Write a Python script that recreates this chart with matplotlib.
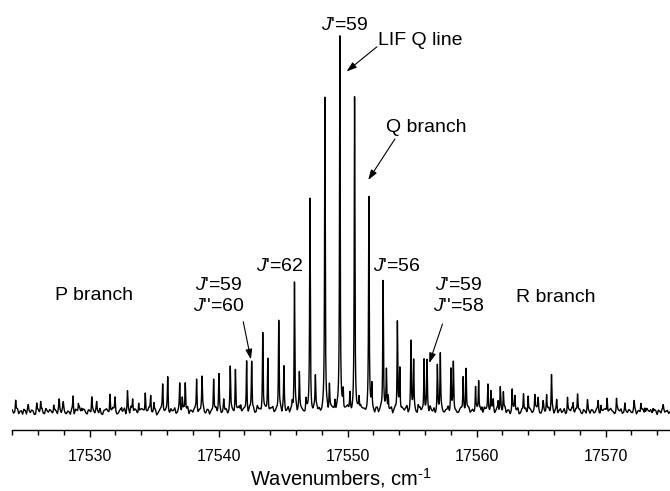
import numpy as np
import matplotlib
matplotlib.use("Agg")
import matplotlib.pyplot as plt

plt.rcParams['font.family'] = ['Liberation Sans', 'DejaVu Sans']
plt.rcParams['mathtext.fontset'] = 'custom'
plt.rcParams['mathtext.it'] = 'Liberation Sans:italic'
plt.rcParams['mathtext.rm'] = 'Liberation Sans'

# Line positions (cm^-1) and relative intensities (tallest = 100)
line_pos = [
    17524.26, 17525.24, 17525.89, 17526.20, 17527.21, 17527.64, 17527.95, 17528.71,
    17529.12, 17529.38, 17530.16, 17530.54, 17531.57, 17531.96, 17532.48, 17532.93,
    17533.33, 17533.80, 17534.31, 17534.73, 17534.98, 17535.66, 17536.05, 17536.98,
    17537.18, 17537.41, 17538.29, 17538.71, 17539.61, 17540.02, 17540.39, 17540.90,
    17541.30, 17541.71, 17542.17, 17542.56, 17543.42, 17543.81, 17544.66, 17545.06,
    17545.71, 17545.88, 17546.26, 17546.77, 17547.08, 17547.50, 17548.24, 17548.59,
    17549.02, 17549.40, 17549.66, 17550.18, 17550.54, 17550.89, 17551.65, 17551.88,
    17552.75, 17553.01, 17553.15, 17553.86, 17554.05, 17554.91, 17555.12, 17555.47,
    17555.93, 17556.16, 17556.96, 17557.19, 17558.01, 17558.20, 17558.96, 17559.19,
    17559.92, 17560.16, 17560.41, 17560.88, 17561.11, 17561.29, 17561.67, 17561.84,
    17562.08, 17562.76, 17562.97, 17563.64, 17564.00, 17564.52, 17564.78, 17565.16,
    17565.43, 17565.81, 17566.21, 17567.05, 17567.49, 17567.83, 17568.60, 17569.43,
    17569.64, 17570.12, 17570.85, 17571.50, 17572.22, 17572.74, 17573.05, 17573.69,
    17574.47,
]
line_int = [
    2.9, 1.3, 2.1, 2.7, 2.4, 2.7, 2.1, 4.0,
    2.4, 1.1, 3.8, 2.4, 5.1, 3.8, 1.3, 5.4,
    3.2, 2.9, 5.6, 4.0, 2.1, 7.2, 9.4, 7.0,
    3.8, 8.3, 9.1, 8.6, 9.4, 9.9, 2.4, 11.3,
    11.8, 2.1, 13.9, 13.1, 21.2, 15.0, 24.4, 11.3,
    1.6, 34.6, 9.7, 2.7, 56.3, 8.8, 83.4, 5.9,
    2.7, 100.0, 5.1, 4.0, 83.4, 4.0, 56.6, 6.4,
    34.9, 9.7, 4.0, 24.1, 11.0, 18.5, 13.1, 1.3,
    14.5, 13.1, 12.3, 14.7, 11.8, 12.6, 8.8, 12.1,
    7.0, 8.0, 1.9, 7.0, 5.9, 2.4, 2.9, 6.4,
    4.8, 5.9, 4.0, 4.6, 4.8, 4.0, 3.5, 2.4,
    4.6, 9.9, 2.9, 4.0, 2.7, 4.6, 2.4, 2.7,
    2.1, 4.0, 3.5, 1.9, 2.4, 2.4, 1.3, 1.3,
    1.3,
]

# baseline noise (tenths of an intensity unit), every 0.2 cm^-1 from 17524.0
noise_step = 0.2
noise_tenths = [
    5, -3, 8, 2, -6, 4, 10, -2, 3, -8, 6, 1, -4, 9, -1, 3,
    -7, 2, 11, -3, 5, -5, 0, 7, -9, 4, 12, -2, 6, -6, 3, 8,
    -4, 1, 9, -7, 5, 2, -3, 10, 0, -5, 7, 3, -8, 6, 13, -1,
    4, -6, 8, 1, -2, 11, -4, 5, -9, 3, 9, -1, 6, -5, 2, 10,
    -3, 7, 0, -7, 12, 4, -2, 8, -6, 3, 14, -4, 5, 1, -8, 9,
    2, -5, 11, 6, -3, 8, -7, 4, 13, -1, 7, -6, 10, 3, -4, 15,
    5, -2, 9, -8, 6, 12, 0, -5, 10, 8, -3, 11, 4, -6, 10, 8,
    7, -2, 10, 6, -4, 9, 12, 6, -3, 10, 7, 12, 8, -1, 9, 6,
    9, 3, 12, 8, -2, 10, 7, 12, 5, -3, 11, 10, 2, 9, -4, 10,
    6, 15, -1, 10, 4, -5, 12, 7, 2, 14, -3, 9, 5, -6, 11, 3,
    -4, 8, 13, 0, -7, 6, 10, -2, 4, 12, -5, 7, 1, -3, 9, 5,
    -6, 10, 2, -4, 8, 3, -8, 11, 5, -2, 7, -5, 9, 0, -3, 12,
    4, -7, 6, 1, 10, -4, 3, 8, -6, 5, -1, 11, 2, -5, 7, -3,
    9, 0, -6, 5, 3, -2, 8, -7, 4, 10, -3, 1, 6, -5, 2, 9,
    -4, 5, -1, 7, -8, 3, 6, -2, 9, 0, -5, 4, 8, -3, 1, 6,
    -2, 7, -6, 3, 5, -4, 9, 1, -3, 6, -7, 2, 8, -1, 4, 0,
]
# baseline noise at the midpoints (17524.1, 17524.3, ...)
noise_mid_tenths = [
    -4, 6, -5, 3, 7, -6, 2, 5, -7, 4, -2, 8, -5, 3, 6, -4,
    5, -6, 3, 8, -4, 2, -7, 4, 6, -5, 1, 7, -3, 5, -6, 2,
    6, -3, -5, 4, 8, -6, 3, 5, -7, 2, -4, 9, 1, -5, 4, 7,
    -5, 3, 6, -6, 2, 7, -3, 5, -4, 8, -2, 4, -6, 7, 3, -5,
    5, -4, 8, 2, -6, 3, 7, -5, 4, 9, -3, 6, -7, 2, 5, -4,
    7, -3, 4, -6, 9, 2, -5, 8, -4, 6, 3, -7, 5, 8, -2, 6,
    -4, 7, 3, -5, 8, -2, 6, 4, -6, 9, 3, -4, 7, 2, -5, 8,
    3, -5, 6, 9, -3, 7, 2, -4, 8, 5, -6, 10, 4, -3, 7, 5,
    -4, 8, 3, -6, 9, 2, -5, 7, 4, -3, 8, 6, -5, 9, 3, -4,
    7, -2, 5, -6, 8, 3, -4, 6, 9, -5, 4, 7, -3, 8, 2, -6,
    6, -4, 3, 8, -5, 2, 7, -3, 5, -6, 9, 1, -4, 6, 3, -5,
    8, -3, 5, -6, 2, 7, -4, 6, 3, -5, 9, 2, -6, 5, 7, -3,
    4, -5, 8, 3, -6, 6, 2, -4, 7, -3, 5, 9, -5, 3, -2, 6,
    -4, 7, 3, -5, 8, 1, -6, 5, 2, -4, 7, 4, -3, 6, -5, 3,
    6, -3, 8, -5, 2, 7, -4, 5, 3, -6, 8, 2, -4, 5, -2, 4,
    -3, 6, 2, -5, 7, -2, 4, 6, -4, 3, 5, -3, 6, 2, -4,
]

x_min, x_max = 17524.0, 17575.0
major_ticks = [17530, 17540, 17550, 17560, 17570]
major_labels = ['17530', '17540', '17550', '17560', '17570']

# spectrum built from the listed lines (narrow Lorentzian profiles) + listed noise
wn = np.arange(x_min, x_max + 0.0025, 0.005)
gamma = 0.03
spec = np.zeros_like(wn)
for p, a in zip(line_pos, line_int):
    spec += a * gamma**2 / ((wn - p)**2 + gamma**2)
nx_main = x_min + noise_step * np.arange(len(noise_tenths))
nx_mid = x_min + noise_step / 2 + noise_step * np.arange(len(noise_mid_tenths))
nx = np.concatenate([nx_main, nx_mid])
ny = np.concatenate([noise_tenths, noise_mid_tenths]) / 10.0
order = np.argsort(nx)
spec += np.interp(wn, nx[order], ny[order])

fig = plt.figure(figsize=(6.70, 4.91), dpi=100)
ax = fig.add_axes([12.3 / 670, 61 / 491, 1 - 12.3 / 670, 430 / 491])
ax.plot(wn, spec, color='black', lw=1.0)
ax.set_xlim(x_min, x_max)
ax.set_ylim(-4.83, 110.46)

for s in ['top', 'right', 'left']:
    ax.spines[s].set_visible(False)
ax.spines['bottom'].set_linewidth(1.0)
ax.set_yticks([])
ax.set_xticks(major_ticks)
ax.set_xticklabels(major_labels, fontsize=11.5)
ax.set_xticks(np.arange(17524, 17576, 2), minor=True)
ax.tick_params(axis='x', which='major', length=5, width=1.0, direction='out', pad=9)
ax.tick_params(axis='x', which='minor', length=3.5, width=1.0, direction='out')
ax.set_xlabel('Wavenumbers, cm$^{\\text{-}1}$', fontsize=14.5, labelpad=1)

fs = 14
arrow = dict(arrowstyle='-|>,head_length=0.6,head_width=0.2', lw=0.8, color='black',
             shrinkA=0, shrinkB=0)

ax.text(17549.8, 103.5, "$J$'=59", ha='center', va='center', fontsize=fs)
ax.text(17552.35, 99.7, 'LIF Q line', ha='left', va='center', fontsize=fs)
ax.annotate('', xy=(17549.92, 91.3), xytext=(17552.27, 97.9), arrowprops=arrow)
ax.text(17552.97, 76.4, 'Q branch', ha='left', va='center', fontsize=fs)
ax.annotate('', xy=(17551.6, 62.2), xytext=(17553.67, 73.2), arrowprops=arrow)
ax.text(17544.75, 39.0, "$J$'=62", ha='center', va='center', fontsize=fs)
ax.text(17553.86, 39.1, "$J$'=56", ha='center', va='center', fontsize=fs)
ax.text(17539.98, 34.0, "$J$'=59", ha='center', va='center', fontsize=fs)
ax.text(17539.98, 28.2, "$J$''=60", ha='center', va='center', fontsize=fs)
ax.annotate('', xy=(17542.5, 14.1), xytext=(17541.91, 24.2), arrowprops=arrow)
ax.text(17558.59, 34.0, "$J$'=59", ha='center', va='center', fontsize=fs)
ax.text(17558.59, 28.2, "$J$''=58", ha='center', va='center', fontsize=fs)
ax.annotate('', xy=(17556.33, 13.1), xytext=(17557.36, 23.6), arrowprops=arrow)
ax.text(17530.3, 31.1, 'P branch', ha='center', va='center', fontsize=fs)
ax.text(17566.15, 30.6, 'R branch', ha='center', va='center', fontsize=fs)

fig.savefig('out.png', dpi=100)
